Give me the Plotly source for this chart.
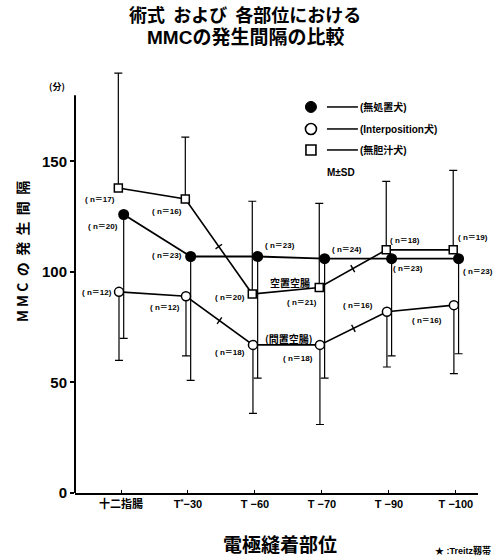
import math
import plotly.graph_objects as go

# 電極縫着部位 (electrode sites)
sites = ["十二指腸", "T<sup>*</sup>−30", "T −60", "T −70", "T −90", "T −100"]

# 無処置犬 (filled circles): mean and SD (drawn downward)
ctrl_mean = [126, 107, 107, 106, 106, 106]
ctrl_sd = [56, 56, 55, 54, 44, 43]
ctrl_n = [20, 23, 23, 24, 23, 23]

# Interposition犬 (open circles): mean and SD (drawn downward)
inter_mean = [91, 89, 67, 67, 82, 85]
inter_sd = [31, 27, 31, 36, 25, 31]
inter_n = [12, 12, 18, 18, 16, 16]

# 無胆汁犬 (open squares): mean and SD (drawn upward)
bile_mean = [138, 133, 90, 93, 110, 110]
bile_sd = [52, 28, 42, 38, 31, 36]
bile_n = [17, 16, 20, 21, 18, 19]

FONT = "Liberation Sans, Arial, Noto Sans CJK JP, sans-serif"
JP = "Noto Sans CJK JP, sans-serif"

# plot area in pixels: x 75..478, y 62..493 (value 0 at 493)
L, R, T, B = 75, 478, 62, 493
X0, DX = 121.0, 67.0
Y0, DY = 493.0, 2.21


def pos(px, py):
    return (px - X0) / DX, (Y0 - py) / DY


def to_px(x, y):
    return X0 + DX * x, Y0 - DY * y


idx = list(range(len(sites)))
bile_x = [i - 0.04 for i in idx]
ctrl_x = [i + 0.04 for i in idx]
inter_x = [i - 0.03 for i in idx]

fig = go.Figure()

fig.add_trace(go.Scatter(
    x=bile_x, y=bile_mean, mode="lines+markers",
    line=dict(color="black", width=1.6),
    marker=dict(symbol="square", size=8, color="white", line=dict(color="black", width=1.5)),
    error_y=dict(type="data", symmetric=False, array=bile_sd, arrayminus=[0] * 6,
                 color="black", thickness=1.2, width=4),
    cliponaxis=False, showlegend=False,
))
fig.add_trace(go.Scatter(
    x=ctrl_x, y=ctrl_mean, mode="lines+markers",
    line=dict(color="black", width=1.8),
    marker=dict(symbol="circle", size=11, color="black"),
    error_y=dict(type="data", symmetric=False, array=[0] * 6, arrayminus=ctrl_sd,
                 color="black", thickness=1.2, width=4),
    cliponaxis=False, showlegend=False,
))
fig.add_trace(go.Scatter(
    x=inter_x, y=inter_mean, mode="lines+markers",
    line=dict(color="black", width=1.6),
    marker=dict(symbol="circle", size=9, color="white", line=dict(color="black", width=1.5)),
    error_y=dict(type="data", symmetric=False, array=[0] * 6, arrayminus=inter_sd,
                 color="black", thickness=1.2, width=4),
    cliponaxis=False, showlegend=False,
))

annotations = []
shapes = []


def label(px, py, text, size=9, anchor="center", font=FONT):
    x, y = pos(px, py)
    annotations.append(dict(
        x=x, y=y, xref="x", yref="y", text=text, showarrow=False,
        xanchor=anchor, yanchor="middle",
        font=dict(family=font, size=size, color="black", weight="bold"),
    ))


def px_line(ax, ay, bx, by, width=1.5):
    x0, y0 = pos(ax, ay)
    x1, y1 = pos(bx, by)
    shapes.append(dict(type="line", xref="x", yref="y", x0=x0, y0=y0, x1=x1, y1=y1,
                       line=dict(color="black", width=width)))


# break marks across the segments T-30→T-60 and T-70→T-90
for xs, ys in ((bile_x, bile_mean), (inter_x, inter_mean)):
    for a in (1, 3):
        ax, ay = to_px(xs[a], ys[a])
        bx, by = to_px(xs[a + 1], ys[a + 1])
        mx, my = (ax + bx) / 2, (ay + by) / 2
        dx, dy = bx - ax, by - ay
        d = math.hypot(dx, dy)
        nx, ny = -dy / d * 4, dx / d * 4
        px_line(mx - nx, my - ny, mx + nx, my + ny, width=1.4)

# sample-size labels
bile_lbl = [(100, 200), (167, 212), (230, 298), (302, 303), (405, 241), (473, 238)]
ctrl_lbl = [(103, 227), (167, 256), (280, 246), (347, 250), (408, 269), (478, 272)]
inter_lbl = [(97, 293), (165, 308), (230, 353), (298, 359), (358, 306), (427, 321)]
for pts, ns in ((bile_lbl, bile_n), (ctrl_lbl, ctrl_n), (inter_lbl, inter_n)):
    for (px, py), n in zip(pts, ns):
        label(px, py, f"( n＝{n})", size=8)

label(290, 283, "空置空腸", size=10, font=JP)
label(289, 339, "(間置空腸)", size=10, font=JP)

# legend block: symbols, short lines, group names
cx, cy = pos(311, 107)
shapes.append(dict(type="circle", xref="x", yref="y",
                   x0=cx - 5.5 / DX, x1=cx + 5.5 / DX, y0=cy - 5.5 / DY, y1=cy + 5.5 / DY,
                   fillcolor="black", line=dict(color="black", width=1)))
cx, cy = pos(311, 129)
shapes.append(dict(type="circle", xref="x", yref="y",
                   x0=cx - 5.5 / DX, x1=cx + 5.5 / DX, y0=cy - 5.5 / DY, y1=cy + 5.5 / DY,
                   fillcolor="white", line=dict(color="black", width=1.6)))
cx, cy = pos(311, 150)
shapes.append(dict(type="rect", xref="x", yref="y",
                   x0=cx - 5 / DX, x1=cx + 5 / DX, y0=cy - 5 / DY, y1=cy + 5 / DY,
                   fillcolor="white", line=dict(color="black", width=1.6)))
for py, txt in ((107, "(無処置犬)"), (129, "(Interposition犬)"), (150, "(無胆汁犬)")):
    px_line(327, py, 358, py)
    label(358, py, txt, size=10, anchor="left", font=FONT)
label(341, 173, "M±SD", size=10)

# vertical axis line up to 180
shapes.append(dict(type="line", xref="paper", yref="y", x0=0, x1=0, y0=0, y1=180,
                   line=dict(color="black", width=2)))


# titles and notes placed by page pixels
def ptext(px, py, text, size, font=JP, anchor="center", angle=0):
    annotations.append(dict(
        x=(px - L) / (R - L), y=(B - py) / (B - T), xref="paper", yref="paper",
        text=text, showarrow=False,
        xanchor=anchor, yanchor="middle", textangle=angle,
        font=dict(family=font, size=size, color="black", weight="bold"),
    ))


ptext(245, 14, "術式  および  各部位における", 18)
ptext(245, 38, "MMCの発生間隔の比較", 19, font=FONT)
ptext(57, 87, "(分)", 9)
ptext(22, 252, "M M C  の  発  生  間  隔", 14, angle=-90)
ptext(280, 543, "電極縫着部位", 19)
ptext(463, 550, "★ :Treitz靱帯", 9, font=FONT)

fig.update_layout(
    width=502, height=560,
    margin=dict(l=L, r=502 - R, t=T, b=560 - B),
    paper_bgcolor="white", plot_bgcolor="white",
    annotations=annotations, shapes=shapes,
    xaxis=dict(
        range=[-0.687, 5.33], tickvals=idx, ticktext=sites,
        showgrid=False, zeroline=False, showline=True, linecolor="black", linewidth=2,
        ticks="inside", ticklen=3, tickcolor="black",
        tickfont=dict(family=FONT, size=11, color="black", weight="bold"),
        fixedrange=True,
    ),
    yaxis=dict(
        range=[0, 195], tickvals=[0, 50, 100, 150],
        showgrid=False, zeroline=False, showline=False,
        ticks="outside", ticklen=4, tickcolor="black", tickwidth=1.5,
        tickfont=dict(family=FONT, size=15, color="black", weight="bold"),
        fixedrange=True,
    ),
)

fig.write_html("out.html")
